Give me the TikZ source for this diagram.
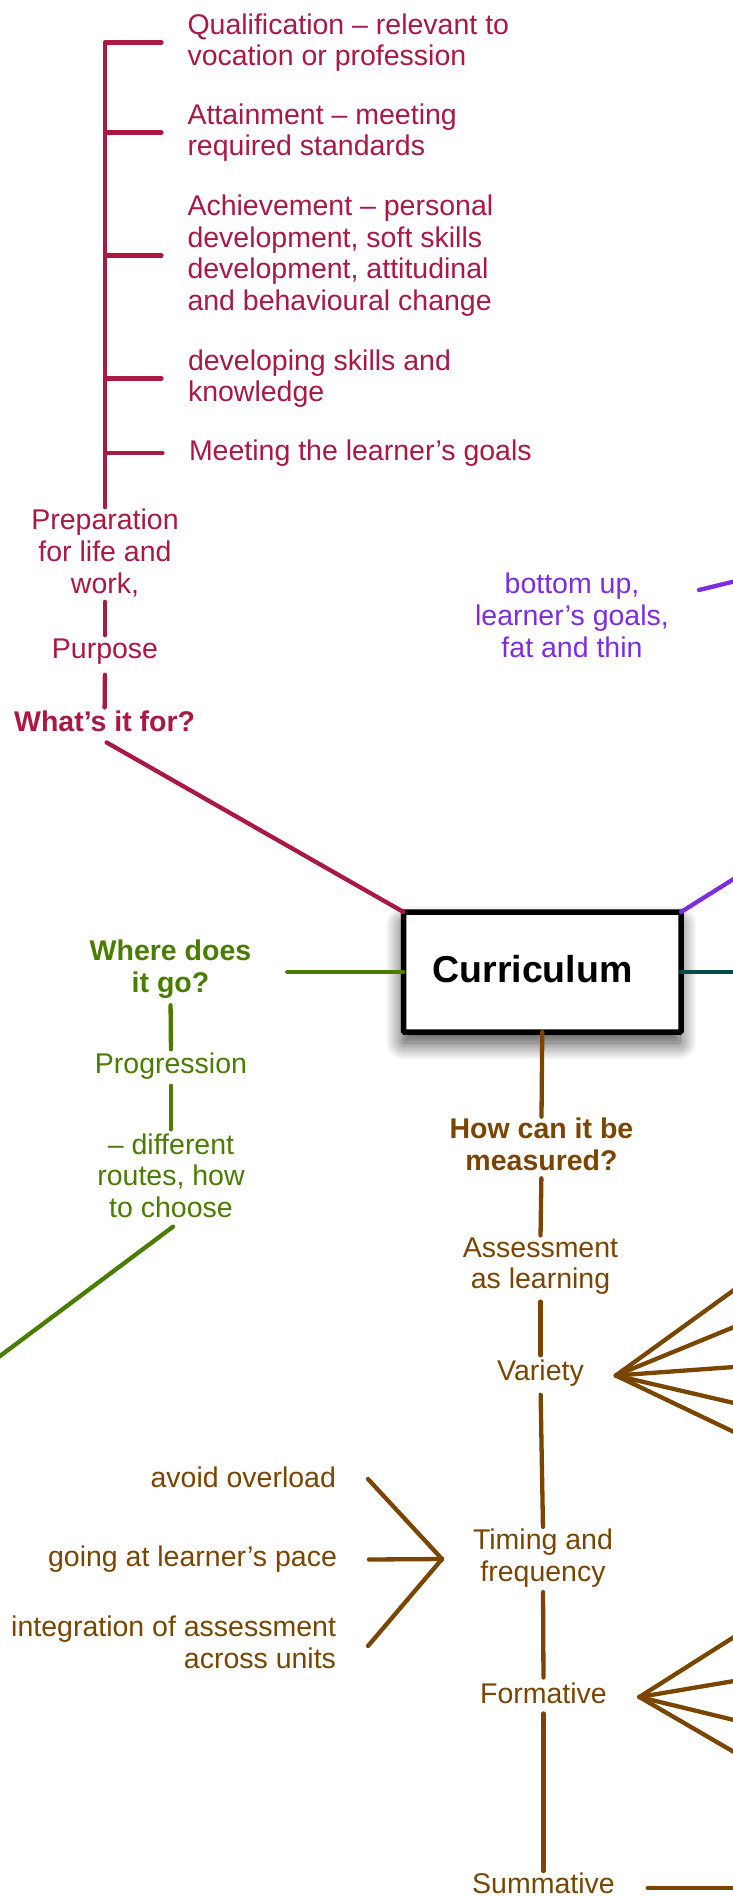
\documentclass[tikz,border=0pt]{standalone}
\usepackage{fontspec}
\setmainfont{Liberation Sans}
\usetikzlibrary{shadows.blur,calc}
\definecolor{mag}{RGB}{170,24,68}
\definecolor{purp}{RGB}{125,45,222}
\definecolor{grn}{RGB}{74,124,0}
\definecolor{brn}{RGB}{122,69,0}
\definecolor{tealc}{RGB}{10,74,72}
\begin{document}
\begin{tikzpicture}[x=1pt,y=-1pt,
  lbl/.style={inner sep=0pt, outer sep=0pt, align=center, font=\fontsize{28.5}{31.7}\selectfont},
  bl/.style={lbl, font=\fontsize{28.5}{31.7}\selectfont\bfseries},
  toplbl/.style={inner sep=0pt, outer sep=0pt, align=left, anchor=west, font=\fontsize{28.5}{31.7}\selectfont, text=mag},
  leftlbl/.style={lbl, anchor=east, align=right, text=brn},
  ln/.style={line width=4.3pt, line cap=round, line join=round},
  curbox/.style={draw=black, line width=5.5pt, fill=white, rounded corners=1pt,
    minimum width=277.5pt, minimum height=120pt, inner sep=0pt, outer sep=0pt,
    blur shadow={shadow xshift=-1pt, shadow yshift=-11pt, shadow blur radius=17pt,
      shadow blur steps=30, shadow opacity=75}},
]
\useasboundingbox (0,0) rectangle (732,1897);

% ---------- magenta: purpose ----------
\node[toplbl] (q1) at (187.5,42.5) {Qualification – relevant to\\vocation or profession};
\node[toplbl] (q2) at (187.5,132.5) {Attainment – meeting\\required standards};
\node[toplbl] (q3) at (187.5,255.5) {Achievement – personal\\development, soft skills\\development, attitudinal\\and behavioural change};
\node[toplbl] (q4) at (188,378.5) {developing skills and\\knowledge};
\node[toplbl] (q5) at (189,453) {Meeting the learner’s goals};
\node[lbl,text=mag] (prep) at (105,553) {Preparation\\for life and\\work,};
\node[lbl,text=mag] (purpose) at (105,652) {Purpose};
\node[bl,text=mag] (whatfor) at (104.6,721) {What’s it for?};

% ---------- purple ----------
\node[lbl,text=purp] (bu) at (572,615.5) {bottom up,\\learner’s goals,\\fat and thin};

% ---------- central box ----------
\node[curbox] (cur) at (542.25,972) {};
\node[inner sep=0pt, font=\fontsize{37.5}{40}\selectfont\bfseries] (curlbl) at (532.5,969) {Curriculum};

% ---------- green ----------
\node[bl,text=grn] (where) at (170.5,969) {Where does\\it go?};
\node[lbl,text=grn] (prog) at (171,1066.5) {Progression};
\node[lbl,text=grn] (diff) at (171,1175.5) {– different\\routes, how\\to choose};

% ---------- brown ----------
\node[bl,text=brn] (how) at (541.5,1144) {How can it be\\measured?};
\node[lbl,text=brn] (assess) at (540.5,1266) {Assessment\\as learning};
\node[lbl,text=brn] (variety) at (540.5,1373.5) {Variety};
\node[lbl,text=brn] (timing) at (543,1558) {Timing and\\frequency};
\node[lbl,text=brn] (form) at (543.5,1693) {Formative};
\node[lbl,text=brn] (summ) at (543.5,1883.5) {Summative};
\node[leftlbl] (avoid) at (336,1477) {avoid overload};
\node[leftlbl] (going) at (337,1559.5) {going at learner’s pace};
\node[leftlbl] (integ) at (336,1642) {integration of assessment\\across units};

% ---------- coordinates ----------
\coordinate (spx) at (105,0);
\coordinate (gEnd) at (-10,1363.5);
\coordinate (pA) at (699,590);
\coordinate (pB) at (745,578.8);
\coordinate (pC) at (748,870);
\coordinate (tE) at (745,972);
\coordinate (sE) at (745,1888);
\coordinate (vA) at ([xshift=32pt,yshift=-2pt]variety.east);
\coordinate (fA) at ([xshift=32.5pt,yshift=-4pt]form.east);
\coordinate (tA) at ([xshift=-31pt,yshift=-1pt]timing.west);
\foreach \y [count=\i] in {1290,1327,1367,1403,1432} {\coordinate (ve\i) at (734,\y);}
\foreach \y [count=\i] in {1637,1681,1720,1752} {\coordinate (fe\i) at (734,\y);}

% ---------- magenta lines ----------
\draw[ln,mag,shorten <=26pt,shorten >=2pt] (q1.west) -- (q1.west -| spx) -- (prep.north);
\foreach \q in {q2,q3} \draw[ln,mag,shorten >=26pt] (\q.west -| spx) -- (\q.west);
\foreach \q in {q4,q5} \draw[ln,mag,shorten >=26.5pt] (\q.west -| spx) -- (\q.west);
\draw[ln,mag,shorten <=5pt,shorten >=4pt] (prep.south) -- (purpose.north);
\draw[ln,mag,shorten <=10pt,shorten >=3pt] (purpose.south) -- (whatfor.north);
\draw[ln,mag] ([xshift=2pt,yshift=-11pt]whatfor.south) -- (cur.north west);

% ---------- purple / teal ----------
\draw[ln,purp] (pA) -- (pB);
\draw[ln,purp] (cur.north east) -- (pC);
\draw[ln,tealc,line width=3.6pt] (cur.east) -- (tE);

% ---------- green lines ----------
\draw[ln,grn,shorten <=36pt] (where.east |- cur.west) -- (cur.west);
\draw[ln,grn,shorten <=7pt,shorten >=4pt] (where.south) -- (prog.north);
\draw[ln,grn,shorten <=6pt,shorten >=4pt] (prog.south) -- (diff.north);
\draw[ln,grn] ([xshift=2pt,yshift=-9pt]diff.south) -- (gEnd);

% ---------- brown lines ----------
\draw[ln,brn,shorten >=1pt] (cur.south) -- (how.north);
\draw[ln,brn,shorten <=8pt,shorten >=2pt] (how.south) -- (assess.north);
\draw[ln,brn,shorten <=7pt,shorten >=5pt] (assess.south) -- (variety.north);
\draw[ln,brn,shorten <=8pt,shorten >=2pt] (variety.south) -- (timing.north);
\draw[ln,brn,shorten <=5pt,shorten >=5pt] (timing.south) -- (form.north);
\draw[ln,brn,shorten <=10pt,shorten >=2pt] (form.south) -- (summ.north);
\draw[ln,brn,shorten <=33pt] (summ.east |- sE) -- (sE);
\foreach \i in {1,...,5} \draw[ln,brn] (vA) -- (ve\i);
\foreach \i in {1,...,4} \draw[ln,brn] (fA) -- (fe\i);
\draw[ln,brn] ([xshift=32pt,yshift=-2pt]avoid.east) -- (tA);
\draw[ln,brn] ([xshift=32pt]going.east) -- (tA);
\draw[ln,brn] ([xshift=32pt,yshift=-4pt]integ.east) -- (tA);
\end{tikzpicture}
\end{document}
